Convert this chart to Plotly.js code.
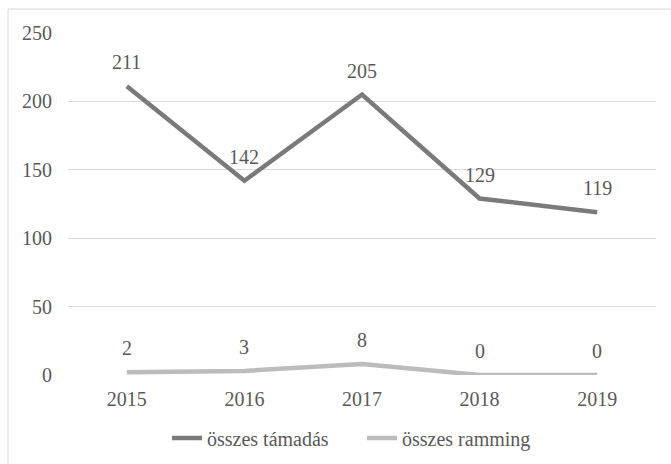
<!DOCTYPE html>
<html>
<head>
<meta charset="utf-8">
<script src="https://cdn.plot.ly/plotly-3.0.1.min.js"></script>
<style>html,body{margin:0;padding:0;background:#fff;}#chart{width:671px;height:464px;}</style>
</head>
<body>
<div id="chart"></div>
<script>
const years = ["2015", "2016", "2017", "2018", "2019"];
const attacksName = "összes támadás";
const attacks = [211, 142, 205, 129, 119];
const rammingName = "összes ramming";
const ramming = [2, 3, 8, 0, 0];
const yTicks = [0, 50, 100, 150, 200, 250];

function mkFont(size) {
  return {family: "Liberation Serif", size: size || 18, color: "#595959"};
}

const traces = [
  {x: years, y: attacks, name: attacksName, type: "scatter", mode: "lines",
   line: {color: "#7a7a7a", width: 4.5}, hoverinfo: "skip"},
  {x: years, y: ramming, name: rammingName, type: "scatter", mode: "lines",
   line: {color: "#bcbcbc", width: 4.5}, hoverinfo: "skip"}
];

const annotations = [];
[attacks, ramming].forEach(vals => {
  vals.forEach((v, i) => {
    annotations.push({x: i, y: v, xref: "x", yref: "y", text: String(v),
      showarrow: false, yshift: 24, font: mkFont(20)});
  });
});

const layout = {
  width: 671, height: 464,
  margin: {l: 68, r: 15, t: 33, b: 89, autoexpand: false},
  paper_bgcolor: "#fff", plot_bgcolor: "#fff",
  font: mkFont(20),
  showlegend: true,
  legend: {orientation: "h", x: 0.5, xanchor: "center", y: -0.184, yanchor: "middle",
    font: mkFont(20), itemwidth: 30, tracegroupgap: 0, entrywidth: 150, entrywidthmode: "pixels"},
  xaxis: {type: "category", range: [-0.5, 4.5], showgrid: false, zeroline: false, automargin: false,
    showline: false, ticks: "", tickfont: mkFont(20), ticklabelstandoff: 10, fixedrange: true},
  yaxis: {range: [0, 250], tickvals: yTicks, showgrid: true, gridcolor: "#d9d9d9", gridwidth: 1, automargin: false,
    zeroline: false, showline: false, ticks: "", tickfont: mkFont(20), ticklabelstandoff: 15, fixedrange: true},
  annotations: annotations,
  shapes: [
    {type: "rect", xref: "paper", yref: "paper", x0: -0.102, x1: 1.2, y0: -0.5, y1: 1.0702,
     line: {color: "#d9d9d9", width: 1}, layer: "below"}
  ]
};

Plotly.newPlot("chart", traces, layout, {displayModeBar: false, staticPlot: true});
</script>
</body>
</html>
